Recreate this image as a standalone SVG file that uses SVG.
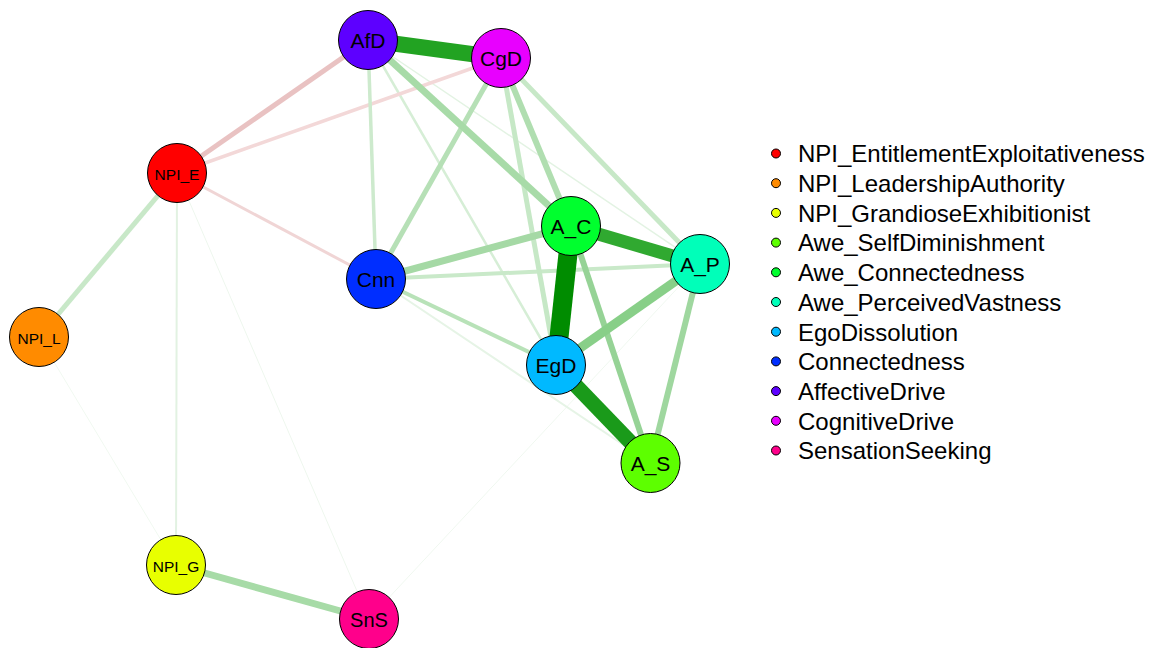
<svg xmlns="http://www.w3.org/2000/svg" width="1158" height="648" viewBox="0 0 1158 648">
<style>
.n circle{stroke:#000;stroke-width:1}
.n text{font-family:"Liberation Sans",Arial,sans-serif;text-anchor:middle;fill:#000}
.big{font-size:21px}
.small{font-size:15.5px}
#edges line{stroke-linecap:butt}
.leg text{font-family:"Liberation Sans",Arial,sans-serif;font-size:24px;fill:#000}
.leg circle{stroke:#000;stroke-width:1}
</style>
<rect width="1158" height="648" fill="#fff"/>
<g id="edges" fill="none">
  <line x1="39" y1="337" x2="176" y2="565" stroke="#f1f9f1" stroke-width="1"/>
  <line x1="177" y1="173" x2="369" y2="619" stroke="#eef7ee" stroke-width="1"/>
  <line x1="700" y1="264" x2="369" y2="619" stroke="#f0f8f0" stroke-width="1"/>
  <line x1="376" y1="279" x2="650.5" y2="463" stroke="#e6f4e6" stroke-width="2"/>
  <line x1="368" y1="40" x2="700" y2="264" stroke="#e3f3e3" stroke-width="1.5"/>
  <line x1="177" y1="173" x2="176" y2="565" stroke="#e2f2e2" stroke-width="2"/>
  <line x1="368" y1="40" x2="556" y2="365" stroke="#d6eed6" stroke-width="2.5"/>
  <line x1="177" y1="173" x2="376" y2="279" stroke="#f0d5d5" stroke-width="3"/>
  <line x1="177" y1="173" x2="501" y2="58" stroke="#f3d8d8" stroke-width="3.5"/>
  <line x1="177" y1="173" x2="368" y2="40" stroke="#e9c2c2" stroke-width="5"/>
  <line x1="368" y1="40" x2="376" y2="279" stroke="#cdeacd" stroke-width="3.5"/>
  <line x1="177" y1="173" x2="39" y2="337" stroke="#c8e8c8" stroke-width="5"/>
  <line x1="376" y1="279" x2="700" y2="264" stroke="#c9e9c9" stroke-width="4"/>
  <line x1="376" y1="279" x2="556" y2="365" stroke="#b8e2b8" stroke-width="4"/>
  <line x1="501" y1="58" x2="700" y2="264" stroke="#c7e8c7" stroke-width="5"/>
  <line x1="501" y1="58" x2="556" y2="365" stroke="#c6e8c6" stroke-width="5"/>
  <line x1="501" y1="58" x2="376" y2="279" stroke="#b6e0b6" stroke-width="5"/>
  <line x1="501" y1="58" x2="571" y2="226" stroke="#b0deb0" stroke-width="6"/>
  <line x1="571" y1="226" x2="650.5" y2="463" stroke="#96d396" stroke-width="6"/>
  <line x1="700" y1="264" x2="650.5" y2="463" stroke="#9fd79f" stroke-width="6"/>
  <line x1="376" y1="279" x2="571" y2="226" stroke="#a5d9a5" stroke-width="7"/>
  <line x1="368" y1="40" x2="571" y2="226" stroke="#a8dba8" stroke-width="7"/>
  <line x1="176" y1="565" x2="369" y2="619" stroke="#a7dba7" stroke-width="7"/>
  <line x1="556" y1="365" x2="700" y2="264" stroke="#88cf88" stroke-width="9"/>
  <line x1="571" y1="226" x2="700" y2="264" stroke="#30a930" stroke-width="13"/>
  <line x1="556" y1="365" x2="650.5" y2="463" stroke="#1a9a1a" stroke-width="15"/>
  <line x1="368" y1="40" x2="501" y2="58" stroke="#22a322" stroke-width="16"/>
  <line x1="571" y1="226" x2="556" y2="365" stroke="#008c00" stroke-width="19"/>
</g>
<g id="NPI_E" class="n"><circle cx="177" cy="173" r="29.5" fill="#FF0000"/><text class="small" x="177" y="180">NPI_E</text></g>
<g id="NPI_L" class="n"><circle cx="39" cy="337" r="29.5" fill="#FF8B00"/><text class="small" x="39" y="344">NPI_L</text></g>
<g id="NPI_G" class="n"><circle cx="176" cy="565" r="29.5" fill="#E8FF00"/><text class="small" x="176" y="572">NPI_G</text></g>
<g id="A_S" class="n"><circle cx="650.5" cy="463" r="29.5" fill="#5DFF00"/><text class="big" x="650.5" y="471">A_S</text></g>
<g id="A_C" class="n"><circle cx="571" cy="226" r="29.5" fill="#00FF2E"/><text class="big" x="571" y="234">A_C</text></g>
<g id="A_P" class="n"><circle cx="700" cy="264" r="29.5" fill="#00FFB9"/><text class="big" x="700" y="272">A_P</text></g>
<g id="EgD" class="n"><circle cx="556" cy="365" r="29.5" fill="#00B9FF"/><text class="big" x="556" y="373">EgD</text></g>
<g id="Cnn" class="n"><circle cx="376" cy="279" r="29.5" fill="#002EFF"/><text class="big" x="376" y="287">Cnn</text></g>
<g id="AfD" class="n"><circle cx="368" cy="40" r="29.5" fill="#5D00FF"/><text class="big" x="368" y="48">AfD</text></g>
<g id="CgD" class="n"><circle cx="501" cy="58" r="29.5" fill="#E800FF"/><text class="big" x="501" y="66">CgD</text></g>
<g id="SnS" class="n"><circle cx="369" cy="619" r="29.5" fill="#FF008B"/><text class="big" x="369" y="627" style="font-size:20px">SnS</text></g>
<g id="legend" class="leg">
  <circle cx="776" cy="153.5" r="4.5" fill="#FF0000"/><text x="798" y="162.3">NPI_EntitlementExploitativeness</text>
  <circle cx="776" cy="183.2" r="4.5" fill="#FF8B00"/><text x="798" y="192">NPI_LeadershipAuthority</text>
  <circle cx="776" cy="212.9" r="4.5" fill="#E8FF00"/><text x="798" y="221.7">NPI_GrandioseExhibitionist</text>
  <circle cx="776" cy="242.6" r="4.5" fill="#5DFF00"/><text x="798" y="251.4">Awe_SelfDiminishment</text>
  <circle cx="776" cy="272.3" r="4.5" fill="#00FF2E"/><text x="798" y="281.1">Awe_Connectedness</text>
  <circle cx="776" cy="302" r="4.5" fill="#00FFB9"/><text x="798" y="310.8">Awe_PerceivedVastness</text>
  <circle cx="776" cy="331.7" r="4.5" fill="#00B9FF"/><text x="798" y="340.5">EgoDissolution</text>
  <circle cx="776" cy="361.4" r="4.5" fill="#002EFF"/><text x="798" y="370.2">Connectedness</text>
  <circle cx="776" cy="391.1" r="4.5" fill="#5D00FF"/><text x="798" y="399.9">AffectiveDrive</text>
  <circle cx="776" cy="420.8" r="4.5" fill="#E800FF"/><text x="798" y="429.6">CognitiveDrive</text>
  <circle cx="776" cy="450.5" r="4.5" fill="#FF008B"/><text x="798" y="459.3">SensationSeeking</text>
</g>
</svg>
